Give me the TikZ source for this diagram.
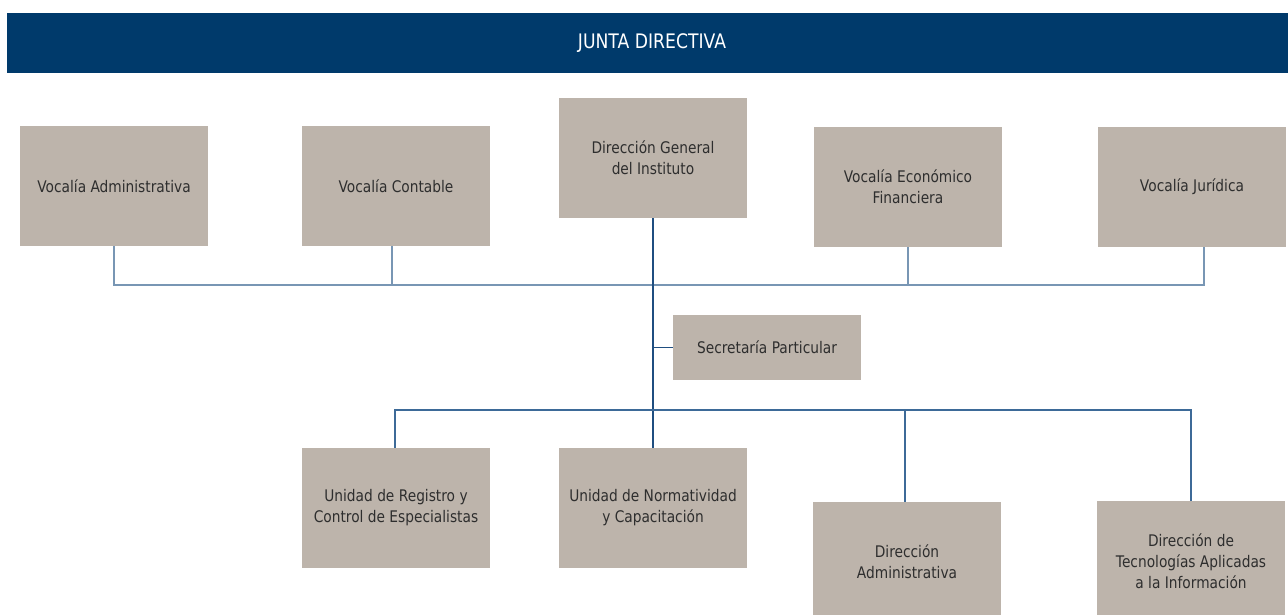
\documentclass[tikz,border=0pt]{standalone}
\usepackage{fontspec}
\setmainfont{DejaVu Sans}[FakeStretch=0.86]
\definecolor{banner}{HTML}{003A6B}
\definecolor{boxgray}{HTML}{BDB4AB}
\definecolor{txt}{HTML}{2E2E2E}
\definecolor{lineA}{HTML}{7896B4}
\definecolor{lineB}{HTML}{1F4E80}
\definecolor{lineC}{HTML}{3D6A98}
\tikzset{
  orgbox/.style={rectangle, fill=boxgray, minimum width=188pt, minimum height=120pt,
    inner sep=0pt, align=center, text=txt, font=\fontsize{16}{21}\selectfont},
  smallbox/.style={orgbox, minimum height=65pt},
  topline/.style={draw=lineA, line width=1.6pt},
  mainline/.style={draw=lineB, line width=1.2pt},
  lowline/.style={draw=lineC, line width=1.4pt}
}
\begin{document}
\begin{tikzpicture}[x=1pt,y=-1pt]
\clip (0,0) rectangle (1288,615);
\fill[white] (0,0) rectangle (1288,615);
\node[rectangle, fill=banner, minimum width=1290pt, minimum height=60pt, inner sep=0pt,
  text=white, font=\fontsize{20}{24}\selectfont] (jd) at (652,43) {JUNTA DIRECTIVA};

\node[orgbox] (va) at (114,186) {Vocalía Administrativa};
\node[orgbox] (vc) at (396,186) {Vocalía Contable};
\node[orgbox] (dg) at (653,158) {Dirección General\\del Instituto};
\node[orgbox] (vef) at (908,187) {Vocalía Económico\\Financiera};
\node[orgbox] (vj) at (1192,187) {Vocalía Jurídica};

\node[smallbox] (sp) at (767,347.5) {Secretaría Particular};

\node[orgbox] (ur) at (396,508) {Unidad de Registro y\\Control de Especialistas};
\node[orgbox] (un) at (653,508) {Unidad de Normatividad\\y Capacitación};
\node[orgbox] (da) at (907,562) {Dirección\\Administrativa};
\node[orgbox] (dt) at (1191,561) {Dirección de\\Tecnologías Aplicadas\\a la Información};

\coordinate (h1) at (0,285);
\coordinate (h2) at (0,410);

% top connectors
\draw[topline] (va.south) -- (va.south |- h1) -- ([xshift=12pt]vj.south |- h1) -- ([xshift=12pt]vj.south);
\draw[topline] ([xshift=-4pt]vc.south) -- ([xshift=-4pt]vc.south |- h1);
\draw[topline] (vef.south) -- (vef.south |- h1);

% main vertical
\draw[mainline] (dg.south) -- (un.north);
\draw[mainline] (sp.west) -- (sp.west -| dg.south);

% bottom connectors
\draw[lowline] ([xshift=-1pt]ur.north) -- ([xshift=-1pt]ur.north |- h2) -- (dt.north |- h2) -- (dt.north);
\draw[lowline] ([xshift=-2pt]da.north) -- ([xshift=-2pt]da.north |- h2);
\end{tikzpicture}
\end{document}
